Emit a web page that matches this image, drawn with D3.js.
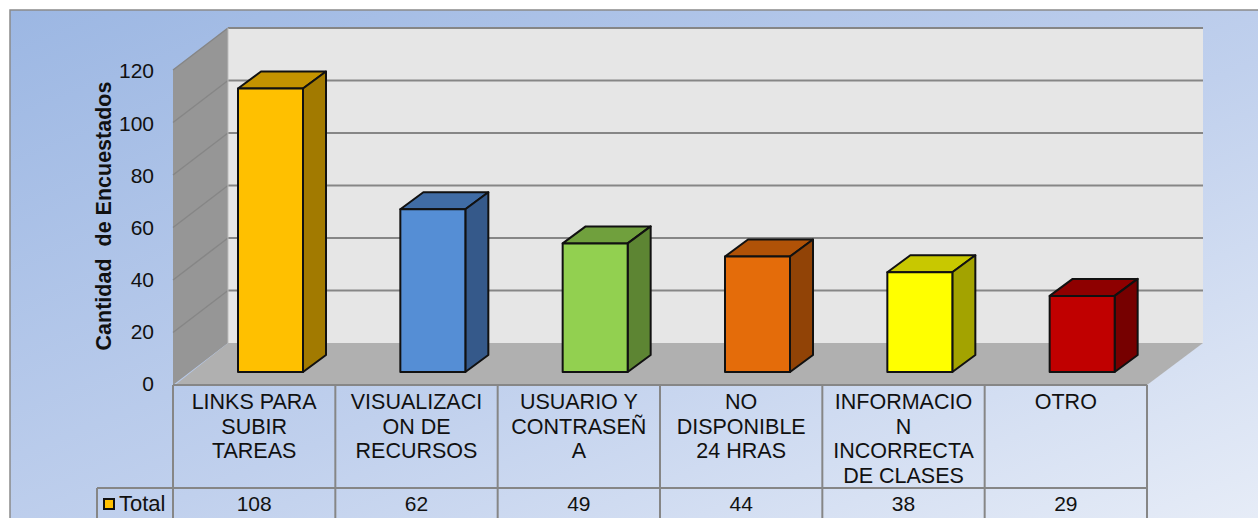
<!DOCTYPE html>
<html>
<head>
<meta charset="utf-8">
<script src="https://cdn.jsdelivr.net/npm/d3@7"></script>
<style>
html,body{margin:0;padding:0;background:#fff;overflow:hidden;}
text{font-family:"Liberation Sans",Arial,sans-serif;fill:#111;}
</style>
</head>
<body>
<div id="chart"></div>
<script>
const chart_width = 1258;
const chart_height = 518;

// data
const categories = ['LINKS PARA SUBIR TAREAS', 'VISUALIZACION DE RECURSOS', 'USUARIO Y CONTRASEÑA',
                    'NO DISPONIBLE 24 HRAS', 'INFORMACION INCORRECTA DE CLASES', 'OTRO'];
const category_lines = [
    ['LINKS PARA', 'SUBIR', 'TAREAS'],
    ['VISUALIZACI', 'ON DE', 'RECURSOS'],
    ['USUARIO Y', 'CONTRASEÑ', 'A'],
    ['NO', 'DISPONIBLE', '24 HRAS'],
    ['INFORMACIO', 'N', 'INCORRECTA', 'DE CLASES'],
    ['OTRO']
];
const total_values = [108, 62, 49, 44, 38, 29];
const y_ticks = [0, 20, 40, 60, 80, 100, 120];
const series_name = 'Total';
const y_title = 'Cantidad  de Encuestados';

const front_colors = ['#FFC000', '#558ED5', '#92D050', '#E46C0A', '#FFFF00', '#C00000'];
const top_colors = ['#C49300', '#406CA5', '#70A03D', '#B05207', '#C8C800', '#8E0000'];
const side_colors = ['#A27A00', '#35598A', '#5D8533', '#914306', '#A3A300', '#760000'];

const grid_color = '#868686';
const wall_depth_x = 55;
const wall_depth_y = 42;
const bar_depth_x = 23;
const bar_depth_y = 17;
const bar_width = 65;

const svg = d3.select('#chart')
    .append('svg')
    .attr('width', chart_width)
    .attr('height', chart_height)
    .style('display', 'block');

const grad = svg.append('defs')
    .append('linearGradient')
    .attr('id', 'bg_grad')
    .attr('gradientUnits', 'userSpaceOnUse')
    .attr('x1', 457).attr('y1', -171)
    .attr('x2', 811).attr('y2', 699);
grad.append('stop').attr('offset', '0').attr('stop-color', '#9CB7E3');
grad.append('stop').attr('offset', '0.55').attr('stop-color', '#C0D0ED');
grad.append('stop').attr('offset', '1').attr('stop-color', '#E6ECF7');

svg.append('rect')
    .attr('x', 10).attr('y', 10)
    .attr('width', 1300).attr('height', 600)
    .attr('fill', 'url(#bg_grad)')
    .attr('stroke', '#8a8a8a')
    .attr('stroke-width', 1.5);

// back wall plane
const yScale = d3.scaleLinear().domain([0, 120]).range([343, 28]);
// tick labels are spaced a touch tighter than the walls
const labelScale = d3.scaleLinear().domain([0, 120]).range([383.5, 70.5]);
// front plane of the table
const xScale = d3.scaleBand().domain(d3.range(categories.length)).range([173, 1147]);

const floor_y = yScale(0);
const top_y = yScale(120);
const back_left = 173 + wall_depth_x;
const back_right = 1147 + 56;

const pts = function(list){ return list.map(function(p){ return p.join(','); }).join(' '); };

svg.append('rect')
    .attr('x', back_left).attr('y', top_y)
    .attr('width', back_right - back_left).attr('height', floor_y - top_y)
    .attr('fill', '#E6E6E6');

svg.append('polygon')
    .attr('points', pts([[173, top_y + wall_depth_y], [back_left, top_y], [back_left, floor_y], [173, floor_y + wall_depth_y]]))
    .attr('fill', '#969696');

svg.append('polygon')
    .attr('points', pts([[175, floor_y + wall_depth_y], [back_left, floor_y], [back_right, floor_y], [1147, floor_y + wall_depth_y]]))
    .attr('fill', '#B0B0B0');

// gridlines, back wall then side wall
svg.append('g')
    .selectAll('.grid_back')
    .data(y_ticks.slice(1))
    .enter()
    .append('line')
    .attr('class', 'grid_back')
    .attr('x1', back_left).attr('x2', back_right)
    .attr('y1', function(d){ return yScale(d); })
    .attr('y2', function(d){ return yScale(d); })
    .attr('stroke', grid_color)
    .attr('stroke-width', 2);

svg.append('g')
    .selectAll('.grid_side')
    .data(y_ticks.slice(1))
    .enter()
    .append('line')
    .attr('class', 'grid_side')
    .attr('x1', 173).attr('x2', back_left)
    .attr('y1', function(d){ return yScale(d) + wall_depth_y; })
    .attr('y2', function(d){ return yScale(d); })
    .attr('stroke', grid_color)
    .attr('stroke-width', 1.5);

svg.append('line')
    .attr('x1', back_left).attr('x2', back_left)
    .attr('y1', top_y).attr('y2', floor_y)
    .attr('stroke', '#bdbdbd').attr('stroke-width', 1);

// bars sit a little behind the table edge
const bar_dy = 29;
const bars = svg.append('g')
    .selectAll('.bar')
    .data(total_values)
    .enter()
    .append('g')
    .attr('class', 'bar')
    .attr('stroke', '#111')
    .attr('stroke-width', 2)
    .attr('stroke-linejoin', 'round');

bars.append('polygon')
    .attr('fill', function(d, i){ return top_colors[i]; })
    .attr('points', function(d, i){
        const x = xScale(i) + 65, y = yScale(d) + bar_dy;
        return pts([[x, y], [x + bar_depth_x, y - bar_depth_y], [x + bar_width + bar_depth_x, y - bar_depth_y], [x + bar_width, y]]);
    });
bars.append('polygon')
    .attr('fill', function(d, i){ return side_colors[i]; })
    .attr('points', function(d, i){
        const x = xScale(i) + 65 + bar_width, y = yScale(d) + bar_dy, y0 = yScale(0) + bar_dy;
        return pts([[x, y], [x + bar_depth_x, y - bar_depth_y], [x + bar_depth_x, y0 - bar_depth_y], [x, y0]]);
    });
bars.append('rect')
    .attr('fill', function(d, i){ return front_colors[i]; })
    .attr('x', function(d, i){ return xScale(i) + 65; })
    .attr('y', function(d){ return yScale(d) + bar_dy; })
    .attr('width', bar_width)
    .attr('height', function(d){ return yScale(0) - yScale(d); });

// y axis labels on the front plane
const y_axis = svg.append('g')
    .attr('transform', 'translate(173,0)')
    .call(d3.axisLeft(labelScale).tickValues(y_ticks).tickSize(0).tickPadding(19));
y_axis.select('.domain').remove();
y_axis.selectAll('text')
    .style('font-family', '"Liberation Sans",Arial,sans-serif')
    .style('font-size', '21px')
    .attr('dy', '0.35em');

svg.append('text')
    .attr('transform', 'translate(111,216) rotate(-90)')
    .attr('text-anchor', 'middle')
    .style('font-size', '21.5px')
    .style('font-weight', 'bold')
    .style('white-space', 'pre')
    .attr('xml:space', 'preserve')
    .text(y_title);

// data table under the plot
const table_top = floor_y + wall_depth_y;
const row_y = 488;
const table_bottom = 530;
const table = svg.append('g').attr('stroke', grid_color).attr('stroke-width', 2);

table.append('line')
    .attr('x1', 173).attr('x2', 1147)
    .attr('y1', table_top).attr('y2', table_top);
table.append('line')
    .attr('x1', 97).attr('x2', 1147)
    .attr('y1', row_y).attr('y2', row_y);
table.append('line')
    .attr('x1', 97).attr('x2', 97)
    .attr('y1', row_y).attr('y2', table_bottom);
table.selectAll('.col')
    .data(d3.range(categories.length + 1))
    .enter()
    .append('line')
    .attr('class', 'col')
    .attr('x1', function(d){ return d < categories.length ? xScale(d) : 1147; })
    .attr('x2', function(d){ return d < categories.length ? xScale(d) : 1147; })
    .attr('y1', table_top).attr('y2', table_bottom);

svg.append('g')
    .selectAll('.cat')
    .data(category_lines)
    .enter()
    .append('text')
    .attr('class', 'cat')
    .attr('text-anchor', 'middle')
    .style('font-size', '21.5px')
    .each(function(d, i){
        d3.select(this).selectAll('tspan')
            .data(d)
            .enter()
            .append('tspan')
            .attr('x', xScale(i) + xScale.bandwidth() / 2)
            .attr('y', function(l, k){ return 409 + k * 24.6; })
            .text(function(l){ return l; });
    });

svg.append('g')
    .selectAll('.val')
    .data(total_values)
    .enter()
    .append('text')
    .attr('class', 'val')
    .attr('text-anchor', 'middle')
    .attr('x', function(d, i){ return xScale(i) + xScale.bandwidth() / 2; })
    .attr('y', 511)
    .style('font-size', '21px')
    .text(function(d){ return d; });

// legend key
svg.append('rect')
    .attr('x', 104).attr('y', 499)
    .attr('width', 10).attr('height', 10)
    .attr('fill', front_colors[0])
    .attr('stroke', '#111')
    .attr('stroke-width', 2);
svg.append('text')
    .attr('x', 119).attr('y', 511)
    .style('font-size', '22px')
    .text(series_name);
</script>
</body>
</html>
